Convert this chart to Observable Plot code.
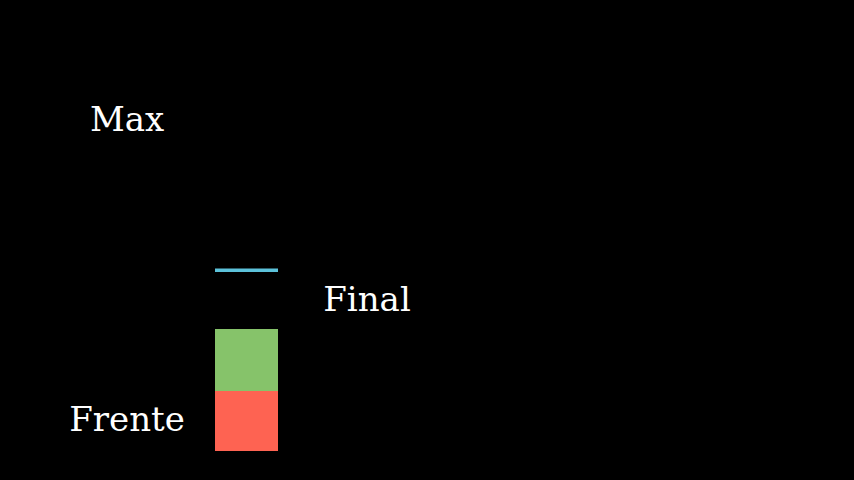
<!DOCTYPE html>
<html>
<head>
<meta charset="utf-8">
<script src="https://cdn.jsdelivr.net/npm/d3@7"></script>
<script src="https://cdn.jsdelivr.net/npm/@observablehq/plot@0.6"></script>
<style>
  html, body { margin: 0; padding: 0; background: #000; overflow: hidden; }
</style>
</head>
<body>
<div id="chart"></div>
<script>
// Stacked bar segments (bottom to top)
const segmentNames = ["Frente", "Verde", "Final", "Max"];
const segmentValues = [60, 62, 57, 3.5];
const segmentColors = ["#fe6352", "#86c36a", "#000000", "#5cc2da"];

// Labels
const labelTexts = ["Max", "Final", "Frente"];
const labelColumns = ["izq", "der", "izq"];
const labelValues = [331, 151, 31];

const columns = ["izq", "barra", "der"];

let acc = 0;
const segments = segmentNames.map((name, i) => {
  const y1 = acc;
  acc += segmentValues[i];
  return { name, col: "barra", y1, y2: acc, color: segmentColors[i] };
});
const labels = labelTexts.map((t, i) => ({ text: t, col: labelColumns[i], y: labelValues[i] }));

const chart = Plot.plot({
  width: 854,
  height: 480,
  marginTop: 0,
  marginBottom: 29,
  marginLeft: 0,
  marginRight: 0,
  style: { background: "#000", color: "#fff" },
  x: { domain: columns, range: [94.5, 397.5], paddingInner: 0.475, paddingOuter: 0, axis: null },
  y: { domain: [0, 451], axis: null },
  marks: [
    Plot.barY(segments, { x: "col", y1: "y1", y2: "y2", fill: "color" }),
    Plot.text(labels, {
      x: "col", y: "y", text: "text", fill: "#fff",
      fontSize: 34, fontFamily: "DejaVu Serif", textAnchor: "middle"
    })
  ]
});
document.getElementById("chart").appendChild(chart);
</script>
</body>
</html>
